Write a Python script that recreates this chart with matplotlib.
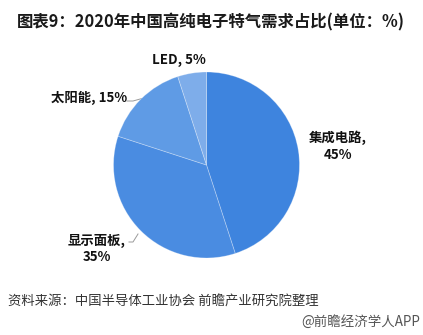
import matplotlib as mpl
import matplotlib.pyplot as plt
import numpy as np

mpl.rcParams["font.family"] = ["Noto Sans CJK SC", "DejaVu Sans"]

categories = ["集成电路", "显示面板", "太阳能", "LED"]
shares = [45, 35, 15, 5]
colors = ["#3e84de", "#4a8ce1", "#5f9be5", "#7eadea"]

title = "图表9：2020年中国高纯电子特气需求占比(单位：%)"
source = "资料来源：中国半导体工业协会 前瞻产业研究院整理"
brand = "@前瞻经济学人APP"

W, H = 423, 335
fig = plt.figure(figsize=(W / 100, H / 100), dpi=100)
ax = fig.add_axes([0, 0, 1, 1])
ax.set_xlim(0, W)
ax.set_ylim(H, 0)
ax.axis("off")

# pie drawn in its own axes so angles stay normal
cx, cy, r = 206.5, 165, 93
pax = fig.add_axes([(cx - r) / W, 1 - (cy + r) / H, 2 * r / W, 2 * r / H])
pax.pie(shares, colors=colors, startangle=90, counterclock=False,
        wedgeprops=dict(linewidth=0.6, edgecolor=(1, 1, 1, 0.3)))
pax.set_xlim(-1, 1)
pax.set_ylim(-1, 1)
pax.set_aspect("equal")
pax.axis("off")

# labels (pixel positions of the reference)
label_pos = {
    "集成电路": (338, 146, "{},\n{}%"),
    "显示面板": (97, 249, "{},\n{}%"),
    "太阳能": (89, 98, "{}, {}%"),
    "LED": (179, 60, "{}, {}%"),
}
for cat, val in zip(categories, shares):
    x, y, fmt = label_pos[cat]
    ax.text(x, y, fmt.format(cat, val), ha="center", va="center",
            fontsize=9.6, fontweight="bold", color="#111111", linespacing=1.25)

# leader lines
ax.plot([127, 133, 142], [101, 101, 98.5], color="#9a9a9a", lw=0.7)
ax.plot([129, 133, 138], [242, 242, 234], color="#9a9a9a", lw=0.7)

ax.text(211, 22, title, ha="center", va="center", fontsize=11.8,
        fontweight="bold", color="#1a1a1a")
ax.text(8, 302, source, ha="left", va="center", fontsize=9.6, color="#333333")
ax.text(420, 322, brand, ha="right", va="center", fontsize=9.7, color="#555555")

fig.savefig("out.png", dpi=100, facecolor="white")
